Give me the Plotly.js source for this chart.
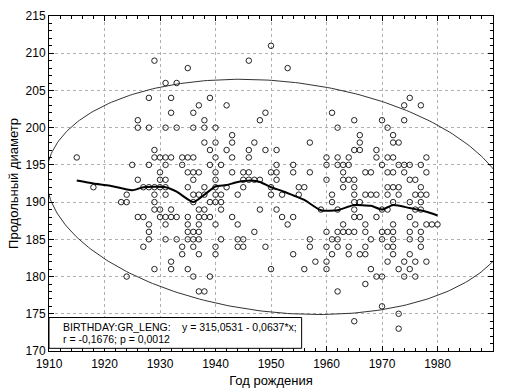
<!DOCTYPE html>
<html>
<head>
<meta charset="utf-8">
<script src="https://cdn.plot.ly/plotly-3.0.1.min.js"></script>
<style>html,body{margin:0;padding:0;background:#fff;}</style>
</head>
<body>
<div id="chart" style="width:505px;height:390px;"></div>
<script>
// Birth year groups and the longitudinal diameter values observed for each year
const birthYears = [1915,1918,1923,1924,1925,1926,1927,1928,1929,1930,1931,1932,1933,1934,1935,1936,1937,1938,1939,1940,
  1941,1942,1943,1944,1945,1946,1947,1948,1949,1950,1951,1952,1953,1954,1955,1956,1957,1958,1959,1960,
  1961,1962,1963,1964,1965,1966,1967,1968,1969,1970,1971,1972,1973,1974,1975,1976,1977,1978,1979,1980];
const grLengByYear = [
  [196],[192],[190],[191,190,180],[195],[201,200,193,188],[192,188,184],[204,200,195,192,187,186,185],
  [209,197,196,192,191,190,189,181],[196,194,193,192,189,188],[206,200,196,195,193,192,191,188,187,185],
  [204,202,196,189,188,182,181],[206,200,188,185],[196,195,184,183],[208,196,194,192,188,187,186,185,181],
  [202,200,196,194,193,191,190,186,185,184,180],[203,194,191,189,188,187,186,185,183,178],
  [201,200,198,192,191,189,188,178],[204,197,195,190,188,180],[200,198,196,194,193,192,191,190,187,184,183],
  [195,191,190,189,185],[203,197,192],[199,198,196,194,188],[191,187,185,184],[194,193,192,185,184],
  [209,197,196,194,193],[198,193,186],[201,193,189],[202,197,184],[211,194,192,191,181],
  [197,195,194,193,189],[191,188],[208,187],[195,194,188,183],[192,191],[192,181],[198,194,185,184],
  [182],[189],[196,195,193,186,184,182,181],[202,191,190,185,183],[200,196,195,189,186,185,184,178],
  [195,194,193,192,187,186],[196,195,193,186,184,183],[201,197,193,192,191,190,189,188,186,174],
  [199,198,197,190,188,183],[194,191,187,186,184,183,179],[194,191,185,181],[197,196,191,188,180],
  [201,195,189,186,185,180,176],[200,196,194,192,191,189,186,184,182],
  [199,198,196,194,192,190,187,186,185,184,183],[198,195,192,191,181,175,173],[203,201,195,194,182,180],
  [204,195,193,190,188,186,185,183,181],[193,191,189,187,182,180],[203,195,192,191,190,189,186,185,184],
  [196,194,191,187,182],[187],[187]
];

// Smoothed trend line
const smoothX = [1915,1918,1921,1925,1927,1931,1933,1936,1938,1940,1942,1944,1946.5,1948,1950,1952,1954,1956,1959,1962,1964,1965,1968,1970,1972,1975,1978,1980];
const smoothY = [192.9,192.5,192.2,191.6,192.0,192.0,191.4,190.0,191.0,192.1,192.3,192.7,192.9,192.7,192.0,191.5,190.9,190.3,188.9,188.9,189.4,189.6,189.5,189.0,189.6,189.2,188.7,188.2];

// Confidence ellipse parameters (center, half extents, correlation)
const ellipseCenter = [1951.5, 190.7];
const ellipseHalf = [42, 15.8];
const ellipseCorr = -0.1676;

// Axis ticks
const xTicks = [1910,1920,1930,1940,1950,1960,1970,1980,1990];
const yTicks = [170,175,180,185,190,195,200,205,210,215];

const ptsX = [], ptsY = [];
birthYears.forEach((yr, i) => grLengByYear[i].forEach(v => { ptsX.push(yr); ptsY.push(v); }));

const ex = [], ey = [];
const s = Math.sqrt(1 - ellipseCorr * ellipseCorr);
for (let k = 0; k <= 360; k++) {
  const t = k * Math.PI / 180;
  ex.push(ellipseCenter[0] + ellipseHalf[0] * Math.cos(t));
  ey.push(ellipseCenter[1] + ellipseHalf[1] * (ellipseCorr * Math.cos(t) + s * Math.sin(t)));
}

const font = 'Arial, "Liberation Sans", sans-serif';

const traces = [
  {x: ex, y: ey, mode: 'lines', line: {color: '#333', width: 1}, hoverinfo: 'skip'},
  {x: ptsX, y: ptsY, mode: 'markers', marker: {symbol: 'circle-open', size: 5.5, color: '#222', line: {width: 1}}},
  {x: smoothX, y: smoothY, mode: 'lines', line: {color: '#000', width: 2, shape: 'spline', smoothing: 0.6}}
];

const axisCommon = {
  showline: true, linecolor: '#000', linewidth: 1, mirror: 'allticks',
  ticks: 'inside', ticklen: 5, tickcolor: '#000',
  showgrid: true, gridcolor: '#b0b0b0', griddash: 'dot', gridwidth: 1,
  zeroline: false, tickfont: {family: font, size: 12, color: '#000'}
};

const layout = {
  width: 505, height: 390,
  margin: {l: 49, r: 12, t: 16, b: 39},
  paper_bgcolor: '#fff', plot_bgcolor: '#fff',
  showlegend: false,
  xaxis: Object.assign({}, axisCommon, {
    range: [1910, 1990], tickvals: xTicks, ticktext: xTicks.map(String),
    ticklabelstandoff: 2,
    minor: {dtick: 2, tick0: 1910, ticks: 'inside', ticklen: 3, tickcolor: '#000', showgrid: false},
    title: {text: 'Год рождения', font: {family: font, size: 13, color: '#000'}, standoff: 5}
  }),
  yaxis: Object.assign({}, axisCommon, {
    range: [170, 215], tickvals: yTicks, ticktext: yTicks.map(String),
    minor: {dtick: 1, tick0: 170, ticks: 'inside', ticklen: 3, tickcolor: '#000', showgrid: false},
    title: {text: 'Продольный диаметр', font: {family: font, size: 13, color: '#000'}, standoff: 4}
  }),
  shapes: [{
    type: 'rect', xref: 'paper', yref: 'paper', layer: 'above',
    x0: 0, x1: 0.569, y0: 0.008, y1: 0.1,
    line: {color: '#000', width: 1}, fillcolor: '#fff'
  }],
  annotations: [
    {xref: 'paper', yref: 'paper', x: 0.028, y: 0.071, xanchor: 'left', yanchor: 'middle', showarrow: false,
     text: 'BIRTHDAY:GR_LENG:', font: {family: font, size: 10.5, color: '#000'}},
    {xref: 'paper', yref: 'paper', x: 0.296, y: 0.071, xanchor: 'left', yanchor: 'middle', showarrow: false,
     text: 'y = 315,0531 - 0,0637*x;', font: {family: font, size: 10.5, color: '#000'}},
    {xref: 'paper', yref: 'paper', x: 0.028, y: 0.036, xanchor: 'left', yanchor: 'middle', showarrow: false,
     text: 'r = -0,1676; p = 0,0012', font: {family: font, size: 10.5, color: '#000'}}
  ]
};

Plotly.newPlot('chart', traces, layout, {staticPlot: true, displayModeBar: false});
</script>
</body>
</html>
